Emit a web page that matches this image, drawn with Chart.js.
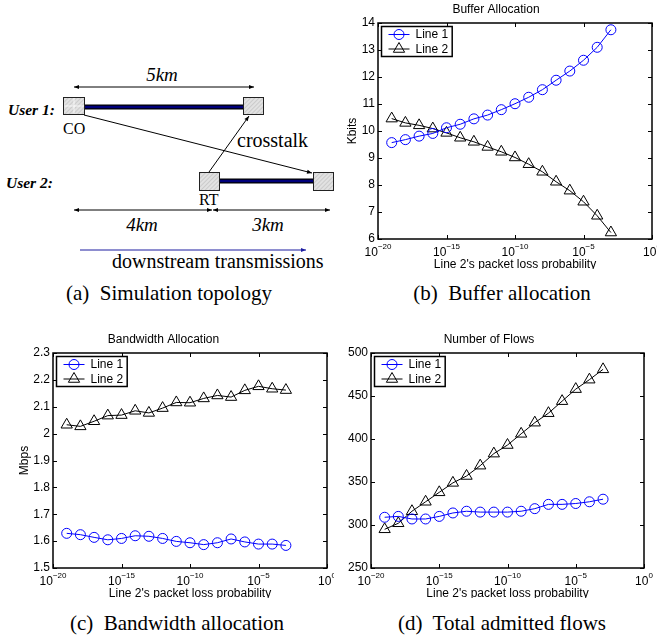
<!DOCTYPE html>
<html>
<head>
<meta charset="utf-8">
<script src="https://cdn.jsdelivr.net/npm/chart.js@4.4.1/dist/chart.umd.min.js"></script>
<style>
  html, body { margin: 0; padding: 0; background: #fff; }
  body { width: 657px; height: 642px; position: relative; overflow: hidden; }
  #topo { position: absolute; left: 0; top: 0; }
  canvas { position: absolute; }
  #cb { left: 340px; top: 0; }
  #cc { left: 0; top: 325px; }
  #cd { left: 334px; top: 325px; }
  .serif { font-family: 'Liberation Serif', 'Times New Roman', serif; }
</style>
</head>
<body>
<svg id="topo" width="657" height="642" class="serif">
  <defs>
    <pattern id="hatch" patternUnits="userSpaceOnUse" width="3" height="3" patternTransform="rotate(45)">
      <rect width="3" height="3" fill="#e2e2e2"/>
      <line x1="0" y1="0" x2="0" y2="3" stroke="#b4b4b4" stroke-width="1"/>
    </pattern>
    <marker id="ah" viewBox="0 0 10 10" refX="10" refY="5" markerWidth="10" markerHeight="5" orient="auto-start-reverse" markerUnits="userSpaceOnUse">
      <path d="M0,1 L10,5 L0,9 z" fill="#000"/>
    </marker>
    <marker id="ahb" viewBox="0 0 10 10" refX="10" refY="5" markerWidth="10" markerHeight="5" orient="auto" markerUnits="userSpaceOnUse">
      <path d="M0,1 L10,5 L0,9 z" fill="#1c1ca0"/>
    </marker>
  </defs>

  <!-- loops -->
  <line x1="84" y1="107" x2="243" y2="107" stroke="#000" stroke-width="5"/>
  <line x1="84" y1="107" x2="243" y2="107" stroke="#00007a" stroke-width="2.6"/>
  <line x1="219" y1="181" x2="313" y2="181" stroke="#000" stroke-width="5"/>
  <line x1="219" y1="181" x2="313" y2="181" stroke="#00007a" stroke-width="2.6"/>

  <!-- nodes -->
  <rect x="63.5" y="97.5" width="21" height="17" fill="url(#hatch)" stroke="#222" stroke-width="1"/>
  <line x1="74" y1="98" x2="74" y2="114" stroke="#fff" stroke-width="0.8"/>
  <line x1="64" y1="106" x2="84" y2="106" stroke="#fff" stroke-width="0.8"/>
  <rect x="243.5" y="97.5" width="20" height="17" fill="url(#hatch)" stroke="#222" stroke-width="1"/>
  <rect x="199.5" y="172.5" width="20" height="18" fill="url(#hatch)" stroke="#222" stroke-width="1"/>
  <rect x="313.5" y="172.5" width="20" height="18" fill="url(#hatch)" stroke="#222" stroke-width="1"/>

  <!-- arrows -->
  <line x1="74" y1="87" x2="254" y2="87" stroke="#000" stroke-width="1" marker-start="url(#ah)" marker-end="url(#ah)"/>
  <line x1="84" y1="115" x2="312" y2="173" stroke="#000" stroke-width="1" marker-end="url(#ah)"/>
  <line x1="209" y1="172" x2="249" y2="116" stroke="#000" stroke-width="1" marker-end="url(#ah)"/>
  <line x1="74" y1="210" x2="212" y2="210" stroke="#000" stroke-width="1" marker-start="url(#ah)" marker-end="url(#ah)"/>
  <line x1="213" y1="210" x2="330" y2="210" stroke="#000" stroke-width="1" marker-start="url(#ah)" marker-end="url(#ah)"/>
  <line x1="80" y1="250" x2="306" y2="250" stroke="#1c1ca0" stroke-width="1" marker-end="url(#ahb)"/>

  <!-- labels -->
  <text x="162" y="81" font-size="19" font-style="italic" text-anchor="middle">5km</text>
  <text x="8" y="115" font-size="15.5" font-style="italic" font-weight="bold">User 1:</text>
  <text x="6" y="188" font-size="15.5" font-style="italic" font-weight="bold">User 2:</text>
  <text x="63" y="134" font-size="16">CO</text>
  <text x="199" y="205" font-size="16">RT</text>
  <text x="237" y="147" font-size="20">crosstalk</text>
  <text x="142" y="231" font-size="19" font-style="italic" text-anchor="middle">4km</text>
  <text x="268" y="231" font-size="19" font-style="italic" text-anchor="middle">3km</text>
  <text x="112" y="268" font-size="20">downstream transmissions</text>

  <!-- captions -->
  <text x="169" y="300" font-size="21" text-anchor="middle" style="white-space:pre">(a)  Simulation topology</text>
  <text x="502" y="300" font-size="21" text-anchor="middle" style="white-space:pre">(b)  Buffer allocation</text>
  <text x="177" y="630" font-size="21" text-anchor="middle" style="white-space:pre">(c)  Bandwidth allocation</text>
  <text x="502" y="630" font-size="21" text-anchor="middle" style="white-space:pre">(d)  Total admitted flows</text>
</svg>

<canvas id="cb" width="317" height="269"></canvas>
<canvas id="cc" width="334" height="273"></canvas>
<canvas id="cd" width="323" height="273"></canvas>

<script>
// Line 2's packet loss probability (x) for each simulated point
const lossProb = [1e-19, 1e-18, 1e-17, 1e-16, 1e-15, 1e-14, 1e-13, 1e-12, 1e-11,
                  1e-10, 1e-9, 1e-8, 1e-7, 1e-6, 1e-5, 1e-4, 1e-3];
const xTicks = [1e-20, 1e-15, 1e-10, 1e-5, 1];

// (b) buffer allocation, Kbits
const bufferLine1 = [9.57, 9.68, 9.81, 9.91, 10.12, 10.25, 10.45, 10.59, 10.79,
                     11.01, 11.25, 11.53, 11.88, 12.22, 12.62, 13.1, 13.75];
const bufferLine2 = [10.46, 10.3, 10.21, 10.09, 9.93, 9.75, 9.6, 9.41, 9.23,
                     9.02, 8.77, 8.49, 8.12, 7.79, 7.38, 6.86, 6.24];
const bufferTicks = [6, 7, 8, 9, 10, 11, 12, 13, 14];

// (c) bandwidth allocation, Mbps
const bandwidthLine1 = [1.629, 1.624, 1.614, 1.605, 1.61, 1.62, 1.618, 1.61, 1.599,
                        1.594, 1.587, 1.594, 1.608, 1.597, 1.589, 1.589, 1.584];
const bandwidthLine2 = [2.033, 2.027, 2.046, 2.067, 2.069, 2.085, 2.077, 2.095, 2.116,
                        2.115, 2.131, 2.142, 2.136, 2.161, 2.176, 2.167, 2.162];
const bandwidthTicks = [1.5, 1.6, 1.7, 1.8, 1.9, 2, 2.1, 2.2, 2.3];

// (d) number of admitted flows
const flowsLine1 = [309, 310, 307, 307, 310, 314, 316, 315, 315,
                    315, 316, 319, 324, 324, 325, 327, 330];
const flowsLine2 = [295, 302, 316, 327, 338, 349, 357, 369, 383,
                    393, 406, 419, 430, 444, 458, 469, 481];
const flowsTicks = [250, 300, 350, 400, 450, 500];

const FONT = "'Liberation Sans', Arial, Helvetica, sans-serif";

function markerPath(ctx, style, r, x, y) {
  ctx.beginPath();
  if (style === 'triangle') {
    ctx.moveTo(x, y - r);
    ctx.lineTo(x + r * Math.sin(2 * Math.PI / 3), y - r * Math.cos(2 * Math.PI / 3));
    ctx.lineTo(x - r * Math.sin(2 * Math.PI / 3), y - r * Math.cos(2 * Math.PI / 3));
    ctx.closePath();
  } else {
    ctx.arc(x, y, r, 0, Math.PI * 2);
  }
}

// matlab style box: frame, inward ticks on four sides, 10^n labels
const matlabFrame = {
  id: 'matlabFrame',
  afterDatasetsDraw(chart) {
    const { ctx, chartArea: a } = chart;
    const x = chart.scales.x, y = chart.scales.y;
    ctx.save();
    ctx.strokeStyle = '#000';
    ctx.lineWidth = 1;
    ctx.beginPath();
    x.ticks.forEach(t => {
      const px = Math.round(x.getPixelForValue(t.value)) + 0.5;
      ctx.moveTo(px, a.bottom); ctx.lineTo(px, a.bottom - 4);
      ctx.moveTo(px, a.top); ctx.lineTo(px, a.top + 4);
    });
    y.ticks.forEach(t => {
      const py = Math.round(y.getPixelForValue(t.value)) + 0.5;
      ctx.moveTo(a.left, py); ctx.lineTo(a.left + 4, py);
      ctx.moveTo(a.right, py); ctx.lineTo(a.right - 4, py);
    });
    ctx.stroke();
    ctx.lineWidth = 1.5;
    ctx.strokeRect(a.left, a.top, a.right - a.left, a.bottom - a.top);

    ctx.fillStyle = '#000';
    ctx.textBaseline = 'alphabetic';
    ctx.textAlign = 'left';
    x.ticks.forEach(t => {
      const e = Math.round(Math.log10(t.value));
      const sup = e < 0 ? '\u2212' + (-e) : String(e);
      ctx.font = '12px ' + FONT;
      const wb = ctx.measureText('10').width;
      ctx.font = '8px ' + FONT;
      const ws = ctx.measureText(sup).width;
      const x0 = x.getPixelForValue(t.value) - (wb + ws) / 2;
      ctx.font = '12px ' + FONT;
      ctx.fillText('10', x0, a.bottom + 17);
      ctx.font = '8px ' + FONT;
      ctx.fillText(sup, x0 + wb, a.bottom + 10);
    });
    ctx.restore();
  }
};

const boxLegend = {
  id: 'boxLegend',
  afterDraw(chart) {
    const { ctx, chartArea: a } = chart;
    const sets = chart.data.datasets;
    ctx.save();
    ctx.font = '12px ' + FONT;
    const tw = Math.max(...sets.map(d => ctx.measureText(d.label).width));
    const bx = a.left + 3.5, by = a.top + 3.5, bw = 38 + tw, bh = 30;
    ctx.fillStyle = '#fff';
    ctx.fillRect(bx, by, bw, bh);
    ctx.strokeStyle = '#000';
    ctx.lineWidth = 1.5;
    ctx.strokeRect(bx, by, bw, bh);
    sets.forEach((d, i) => {
      const cy = by + 8 + i * 14.5;
      ctx.strokeStyle = d.borderColor;
      ctx.lineWidth = 1;
      ctx.beginPath();
      ctx.moveTo(bx + 7, cy); ctx.lineTo(bx + 28, cy);
      ctx.stroke();
      markerPath(ctx, d.pointStyle, d.pointRadius, bx + 17.5, cy);
      ctx.stroke();
      ctx.fillStyle = '#000';
      ctx.textBaseline = 'middle';
      ctx.fillText(d.label, bx + 34, cy + 0.5);
    });
    ctx.restore();
  }
};

function series(label, values, color, style, radius) {
  return {
    label,
    data: lossProb.map((p, i) => ({ x: p, y: values[i] })),
    borderColor: color,
    borderWidth: 1,
    pointStyle: style,
    pointRadius: radius,
    pointBorderColor: color,
    pointBackgroundColor: 'rgba(0,0,0,0)',
    pointBorderWidth: 1,
    tension: 0,
    fill: false
  };
}

function makeChart(id, cfg) {
  const canvas = document.getElementById(id);
  const W = canvas.width, H = canvas.height;
  const font = { family: FONT, size: 12, weight: 'normal', lineHeight: 1.2 };
  return new Chart(canvas, {
    type: 'line',
    data: {
      datasets: [
        series('Line 1', cfg.line1, '#0000ff', 'circle', 5),
        series('Line 2', cfg.line2, '#000000', 'triangle', 6.5)
      ]
    },
    options: {
      responsive: false,
      animation: false,
      devicePixelRatio: 1,
      layout: { autoPadding: false, padding: { left: 0, right: W - cfg.area.right, top: 0, bottom: 0 } },
      plugins: {
        legend: { display: false },
        tooltip: { enabled: false },
        title: {
          display: true, text: cfg.title, color: '#000', font,
          padding: { top: cfg.titleY - 7.2, bottom: cfg.area.top - cfg.titleY - 7.2 }
        }
      },
      scales: {
        x: {
          type: 'logarithmic', min: 1e-20, max: 1,
          grid: { display: false, drawTicks: false },
          border: { display: false },
          ticks: { display: false },
          afterBuildTicks: s => { s.ticks = xTicks.map(v => ({ value: v })); },
          afterFit: s => { s.height = H - cfg.area.bottom; },
          title: {
            display: true, text: "Line 2's packet loss probability", color: '#000', font,
            padding: { top: 0, bottom: H - cfg.xTitleY - 7.2 }
          }
        },
        y: {
          type: 'linear',
          min: cfg.ticks[0], max: cfg.ticks[cfg.ticks.length - 1],
          grid: { display: false, drawTicks: false },
          border: { display: false },
          ticks: {
            color: '#000', font, padding: 3, autoSkip: false,
            callback: v => String(+(+v).toFixed(2))
          },
          afterBuildTicks: s => { s.ticks = cfg.ticks.map(v => ({ value: v })); },
          afterFit: s => { s.width = cfg.area.left; },
          title: {
            display: !!cfg.yTitle, text: cfg.yTitle || '', color: '#000', font,
            padding: { top: (cfg.yTitleX || 10) - 7.2, bottom: 0 }
          }
        }
      }
    },
    plugins: [matlabFrame, boxLegend]
  });
}

makeChart('cb', {
  title: 'Buffer Allocation', yTitle: 'Kbits', yTitleX: 13,
  line1: bufferLine1, line2: bufferLine2, ticks: bufferTicks,
  area: { left: 38, right: 312, top: 23, bottom: 239 }, titleY: 9.5, xTitleY: 265
});
makeChart('cc', {
  title: 'Bandwidth Allocation', yTitle: 'Mbps', yTitleX: 25,
  line1: bandwidthLine1, line2: bandwidthLine2, ticks: bandwidthTicks,
  area: { left: 53, right: 327, top: 28, bottom: 243 }, titleY: 15, xTitleY: 269
});
makeChart('cd', {
  title: 'Number of Flows',
  line1: flowsLine1, line2: flowsLine2, ticks: flowsTicks,
  area: { left: 37, right: 310, top: 28, bottom: 243 }, titleY: 15, xTitleY: 269
});
</script>
</body>
</html>
